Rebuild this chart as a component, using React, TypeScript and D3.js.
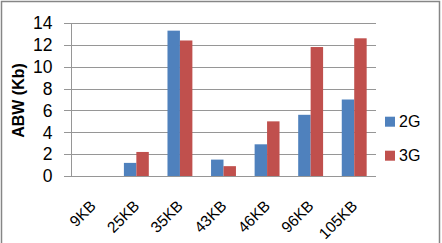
import * as d3 from 'd3';
import React, { useEffect, useRef } from 'react';

const WIDTH = 442;
const HEIGHT = 243;

const categories = ['9KB', '25KB', '35KB', '43KB', '46KB', '96KB', '105KB'];
const series = ['2G', '3G'];
const values2G = [0, 1.2, 13.3, 1.5, 2.9, 5.6, 7.0];
const values3G = [0, 2.2, 12.4, 0.9, 5.0, 11.8, 12.6];
const yTicks = [0, 2, 4, 6, 8, 10, 12, 14];
const colors = ['#4f81bd', '#c0504d'];

const FONT = "'Liberation Sans', Arial, sans-serif";

const margin = { top: 23, right: 66, bottom: 67, left: 71 };

export default function App() {
  const ref = useRef<SVGSVGElement>(null);

  useEffect(() => {
    const svg = d3.select(ref.current);
    svg.selectAll('*').remove();

    const x0 = d3
      .scaleBand<string>()
      .domain(categories)
      .range([margin.left, WIDTH - margin.right])
      .padding(0);
    // excel style: gap width 150% between groups
    const groupW = (x0.bandwidth() * 2) / 3.5;
    const x1 = d3.scaleBand<string>().domain(series).range([0, groupW]).padding(0);
    const y = d3.scaleLinear().domain([0, 14]).range([HEIGHT - margin.bottom, margin.top]);

    // frame
    svg
      .append('rect')
      .attr('x', 1.5)
      .attr('y', 1.5)
      .attr('width', WIDTH - 4)
      .attr('height', HEIGHT + 10)
      .attr('fill', '#fff')
      .attr('stroke', '#868686')
      .attr('stroke-width', 1.5);

    // gridlines + tick marks
    const grid = svg.append('g');
    grid
      .selectAll('line')
      .data(yTicks)
      .enter()
      .append('line')
      .attr('x1', margin.left - 7)
      .attr('x2', WIDTH - margin.right)
      .attr('y1', d => Math.round(y(d)) + 0.5)
      .attr('y2', d => Math.round(y(d)) + 0.5)
      .attr('stroke', '#969696')
      .attr('stroke-width', 1);

    svg
      .append('line')
      .attr('x1', margin.left + 0.5)
      .attr('x2', margin.left + 0.5)
      .attr('y1', y(14))
      .attr('y2', y(0))
      .attr('stroke', '#969696');

    grid
      .selectAll('text')
      .data(yTicks)
      .enter()
      .append('text')
      .attr('x', 52.5)
      .attr('y', d => y(d))
      .attr('dy', '0.36em')
      .attr('text-anchor', 'end')
      .style('font-family', FONT)
      .style('font-size', '17.5px')
      .attr('fill', '#000')
      .text(d => d);

    // bars
    const allValues = [values2G, values3G];
    series.forEach((s, si) => {
      svg
        .append('g')
        .selectAll('rect')
        .data(categories)
        .enter()
        .append('rect')
        .attr('x', c => (x0(c) || 0) + (x0.bandwidth() - groupW) / 2 + (x1(s) || 0))
        .attr('y', (c, i) => y(allValues[si][i]))
        .attr('width', x1.bandwidth())
        .attr('height', (c, i) => y(0) - y(allValues[si][i]))
        .attr('fill', colors[si]);
    });

    // x labels
    svg
      .append('g')
      .selectAll('text')
      .data(categories)
      .enter()
      .append('text')
      .attr('transform', c => `translate(${(x0(c) || 0) + x0.bandwidth() / 2 + 4},207) rotate(-45)`)
      .attr('text-anchor', 'end')
      .style('font-family', FONT)
      .style('font-size', '15.5px')
      .attr('fill', '#000')
      .text(c => c);

    // y title
    svg
      .append('text')
      .attr('transform', `translate(24,${(y(0) + y(14)) / 2 + 1}) rotate(-90)`)
      .attr('text-anchor', 'middle')
      .style('font-family', FONT)
      .style('font-size', '16px')
      .style('font-weight', 'bold')
      .text('ABW (Kb)');

    // legend
    const legend = svg.append('g');
    series.forEach((s, i) => {
      const cy = 121.7 + i * 34;
      legend
        .append('rect')
        .attr('x', 385)
        .attr('y', cy - 5)
        .attr('width', 10)
        .attr('height', 10)
        .attr('fill', colors[i]);
      legend
        .append('text')
        .attr('x', 399)
        .attr('y', cy)
        .attr('dy', '0.36em')
        .style('font-family', FONT)
        .style('font-size', '16px')
        .text(s);
    });
  }, []);

  return (
    <div style={{ position: 'absolute', left: 0, top: 0 }}>
      <svg ref={ref} width={WIDTH} height={HEIGHT} style={{ display: 'block' }} />
    </div>
  );
}
